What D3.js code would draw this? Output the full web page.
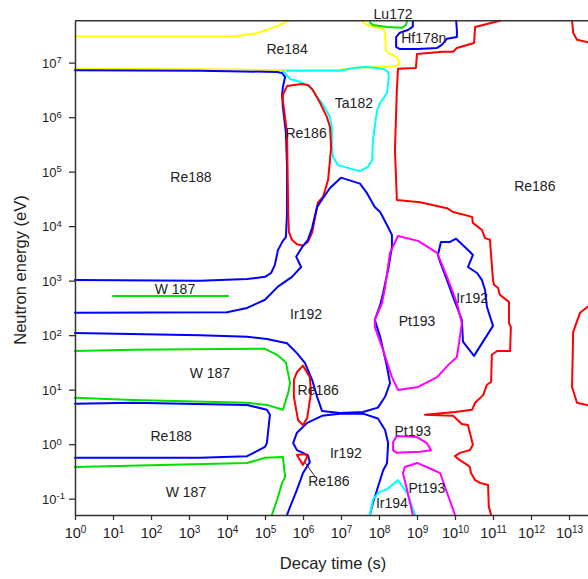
<!DOCTYPE html>
<html><head><meta charset="utf-8">
<script src="https://cdn.jsdelivr.net/npm/d3@7"></script>
<style>
body{margin:0;background:#fff}
svg{display:block}
text{font-family:"Liberation Sans",Arial,sans-serif;fill:#222}
</style>
</head><body>
<svg id="chart" width="588" height="579"></svg>
<script>
// Each point: [log10 decay time (s), log10 neutron energy (eV)]
const xTickExps = d3.range(0, 14);
const yTickExps = d3.range(-1, 8);

const re184Top = [[0,7.48],[4.16,7.48],[4.79,7.54],[5.32,7.67],[5.63,7.77]];
const re184Bottom = [[7.55,7.77],[7.68,7.69],[8.11,7.62],[8.16,7.55],[8.18,7.23],[8.29,7.16],[8.47,7.10],[8.53,7.01],[8.53,6.96],[8.37,6.93],[7.84,6.92],[7.32,6.90],[6.97,6.87],[5.92,6.86],[3.29,6.88],[0,6.89]];
const lu172 = [[7.76,7.74],[7.84,7.69],[8.21,7.655],[8.61,7.64],[8.71,7.69],[8.74,7.77]];
const hf178n = [[8.89,7.77],[8.89,7.66],[8.76,7.60],[8.55,7.55],[8.45,7.47],[8.45,7.29],[8.55,7.25],[9.03,7.25],[9.53,7.27],[9.66,7.33],[9.79,7.44],[10.05,7.47],[10.05,7.60],[10.03,7.77]];
const re186Right = [[11.18,7.77],[10.53,7.655],[10.50,7.36],[10.34,7.33],[10.05,7.27],[9.95,7.20],[9.68,7.20],[9.0,7.16],[8.97,6.90],[8.50,6.89],[8.47,6.50],[8.42,5.40],[8.47,4.48],[9.08,4.44],[9.79,4.33],[9.95,4.26],[10.45,4.17],[10.47,4.06],[10.71,3.93],[10.79,3.78],[10.92,3.75],[11.0,3.01],[11.03,2.92],[11.13,2.87],[11.18,2.74],[11.42,2.61],[11.42,2.22],[11.47,2.15],[11.45,1.71],[11.11,1.71],[10.97,1.64],[10.95,1.14],[10.84,1.09],[10.74,0.90],[10.53,0.76],[10.45,0.63],[10.0,0.59],[9.21,0.54],[9.95,0.52],[10.18,0.37],[10.34,0.35],[10.42,0.13],[10.47,-0.01],[10.39,-0.11],[10.13,-0.16],[10.0,-0.22],[10.08,-0.27],[10.32,-0.38],[10.39,-0.42],[10.42,-0.53],[10.53,-0.66],[10.66,-0.71],[10.87,-0.75],[10.89,-1.15],[10.95,-1.30]];
const re186EdgeTop = [[13.08,7.77],[13.11,7.55],[13.21,7.42],[13.6,7.36]];
const re186EdgeMid = [[13.6,2.58],[13.29,2.41],[13.11,2.06],[13.08,1.05],[13.21,0.76],[13.6,0.70]];
const re188Upper = [[0,6.86],[3.29,6.85],[5.32,6.83],[5.45,6.81],[5.53,6.74],[5.47,6.55],[5.45,6.41],[5.47,6.19],[5.55,5.71],[5.58,5.09],[5.58,4.24],[5.55,3.80],[5.47,3.73],[5.34,3.56],[5.26,3.29],[5.16,3.14],[5.0,3.07],[4.53,3.03],[3.29,3.0],[0,3.01]];
const re186Inner = [[5.97,6.61],[5.58,6.57],[5.47,6.41],[5.47,6.31],[5.58,5.71],[5.61,4.24],[5.63,3.89],[5.71,3.75],[5.84,3.67],[6.0,3.64],[6.13,3.71],[6.24,3.88],[6.39,4.43],[6.53,4.54],[6.66,4.85],[6.71,5.21],[6.74,5.45],[6.71,5.82],[6.63,6.0],[6.45,6.26],[6.26,6.50],[6.13,6.59]];
const ta182 = [[5.47,6.85],[5.66,6.70],[5.92,6.65],[6.18,6.56],[6.37,6.37],[6.53,6.23],[6.71,6.0],[6.76,5.82],[6.76,5.45],[6.79,5.27],[6.92,5.12],[7.18,5.07],[7.5,5.01],[7.71,5.09],[7.82,5.21],[7.84,5.58],[7.95,6.13],[8.03,6.26],[8.21,6.44],[8.26,6.74],[8.24,6.83],[8.16,6.87],[7.97,6.90],[7.58,6.92],[7.32,6.90],[6.97,6.85],[5.92,6.85],[5.58,6.85]];
const ir192Main = [[0,2.41],[4.0,2.42],[4.53,2.50],[5.0,2.65],[5.34,2.89],[5.71,3.07],[5.95,3.25],[5.82,3.44],[6.0,3.64],[6.13,3.75],[6.24,3.97],[6.37,4.35],[6.53,4.52],[6.71,4.70],[7.0,4.89],[7.5,4.78],[7.68,4.61],[7.89,4.35],[8.03,4.26],[8.21,4.02],[8.34,3.84],[8.34,3.62],[8.24,3.20],[8.11,2.78],[8.03,2.55],[7.89,2.28],[8.03,1.97],[8.11,1.73],[8.21,1.42],[8.29,1.12],[8.16,0.87],[7.97,0.67],[7.58,0.59],[6.97,0.57],[6.50,0.61],[6.37,0.87],[6.24,1.18],[6.05,1.49],[5.84,1.67],[5.58,1.85],[5.05,1.93],[4.53,1.97],[3.29,2.0],[0,2.04]];
const ir192Lower = [[5.58,-1.30],[5.66,-1.15],[5.84,-0.84],[6.0,-0.53],[6.18,-0.33],[6.13,-0.20],[5.84,-0.11],[5.74,0.02],[5.84,0.21],[6.11,0.39],[6.50,0.52],[6.97,0.56],[7.58,0.56],[7.97,0.47],[8.16,0.26],[8.24,0.02],[8.21,-0.35],[8.11,-0.48],[7.97,-0.79],[7.84,-1.08],[7.76,-1.30]];
const ir192Right = [[9.63,3.71],[9.87,3.71],[10.03,3.77],[10.39,3.53],[10.47,3.47],[10.34,3.25],[10.58,3.14],[10.71,3.01],[10.79,2.83],[10.84,2.52],[11.0,2.17],[10.5,1.62],[10.21,1.88],[10.18,2.28],[9.95,2.70],[9.79,3.01],[9.61,3.34],[9.55,3.47]];
const w187Thin = [[1.0,2.72],[4.03,2.72]];
const w187Mid = [[0,1.71],[1.53,1.73],[5.0,1.75],[5.32,1.64],[5.55,1.50],[5.66,1.12],[5.61,0.94],[5.47,0.63],[5.34,0.66],[5.05,0.72],[4.53,0.76],[1.53,0.81],[0,0.85]];
const re188Lower = [[0,0.74],[1.53,0.76],[4.53,0.72],[5.05,0.63],[5.13,0.54],[5.05,0.02],[5.0,-0.05],[4.53,-0.22],[3.29,-0.25],[0,-0.25]];
const w187Low = [[0,-0.42],[4.53,-0.345],[5.0,-0.25],[5.47,-0.235],[5.53,-0.60],[5.45,-0.71],[5.32,-1.02],[5.18,-1.30]];
const re186Mid = [[6.0,1.44],[6.18,1.23],[6.21,0.94],[6.11,0.48],[6.0,0.35],[5.87,0.44],[5.76,0.87],[5.76,1.18],[5.84,1.32]];
const re186Tiny = [[5.84,-0.20],[6.05,-0.18],[6.11,-0.23],[6.0,-0.38],[5.92,-0.29]];
const ir194 = [[7.76,-1.30],[7.84,-1.02],[8.0,-0.88],[8.21,-0.83],[8.5,-0.66],[8.74,-0.90],[8.95,-1.30]];
const pt193Low = [[8.89,-1.30],[8.76,-0.90],[8.63,-0.53],[8.68,-0.42],[9.0,-0.345],[9.42,-0.47],[9.61,-0.53],[9.74,-0.79],[10.0,-1.30]];
const pt193Small = [[8.47,0.15],[9.0,0.13],[9.26,0.02],[9.37,-0.11],[9.08,-0.14],[8.47,-0.16],[8.37,-0.11],[8.37,0.04]];
const pt193Big = [[8.5,3.82],[9.03,3.73],[9.53,3.51],[9.79,3.07],[10.05,2.59],[10.18,2.22],[10.13,1.97],[10.05,1.60],[9.82,1.45],[9.53,1.23],[9.03,1.05],[8.5,0.995],[8.34,1.23],[8.08,1.78],[7.89,2.15],[7.89,2.28],[8.08,2.59],[8.16,2.88],[8.29,3.51]];
const re186Pointer = [[6.05,-0.33],[6.32,-0.60]];

const labelTexts = ["Lu172","Hf178n","Re184","Ta182","Re186","Re188","Re186","W 187","Ir192","Pt193","Ir192","W 187","Re186","Re188","Ir192","Pt193","Re186","Pt193","W 187","Ir194"];
const labelAt = [[8.37,7.89],[9.18,7.45],[5.58,7.25],[7.34,6.26],[6.08,5.71],[3.05,4.90],[12.1,4.74],[2.63,2.85],[6.08,2.39],[9.0,2.26],[10.45,2.68],[3.55,1.31],[6.4,0.99],[2.53,0.15],[7.13,-0.16],[8.89,0.24],[6.68,-0.67],[9.26,-0.80],[2.92,-0.88],[8.34,-1.08]];

const W = 588, H = 579;
const svg = d3.select("#chart");
const x = d3.scaleLog().domain([1, 1e14]).range([75, 607]);
const y = d3.scaleLog().domain([Math.pow(10,-1.3), Math.pow(10,7.77)]).range([515, 20.7]);

const line = d3.line().x(d => x(Math.pow(10, d[0]))).y(d => y(Math.pow(10, d[1])));
const lineClosed = d3.line().curve(d3.curveLinearClosed).x(d => x(Math.pow(10, d[0]))).y(d => y(Math.pow(10, d[1])));

const curves = [
  {d: re184Top, c: "#ffff00"}, {d: re184Bottom, c: "#ffff00"},
  {d: re188Upper, c: "#0000ff"},
  {d: ta182, c: "#00ffff"},
  {d: lu172, c: "#00e000"}, {d: hf178n, c: "#0000ff"},
  {d: re186Right, c: "#ff0000"}, {d: re186EdgeTop, c: "#ff0000"}, {d: re186EdgeMid, c: "#ff0000"},
  {d: re186Inner, c: "#ff0000", closed: true},
  {d: ir192Main, c: "#0000ff"}, {d: ir192Lower, c: "#0000ff"},
  {d: ir192Right, c: "#0000ff", closed: true},
  {d: w187Thin, c: "#00e000"}, {d: w187Mid, c: "#00e000"}, {d: w187Low, c: "#00e000"},
  {d: re188Lower, c: "#0000ff"},
  {d: re186Mid, c: "#ff0000", closed: true}, {d: re186Tiny, c: "#ff0000", closed: true},
  {d: ir194, c: "#00ffff"},
  {d: pt193Low, c: "#ff00ff"}, {d: pt193Small, c: "#ff00ff", closed: true}, {d: pt193Big, c: "#ff00ff", closed: true}
];

svg.append("g").selectAll("path").data(curves).join("path")
  .attr("d", c => (c.closed ? lineClosed : line)(c.d))
  .attr("fill", "none").attr("stroke", c => c.c).attr("stroke-width", 2)
  .attr("stroke-linejoin", "round").attr("stroke-linecap", "round");

svg.append("path").attr("d", line(re186Pointer)).attr("stroke", "#222").attr("stroke-width", 1).attr("fill", "none");

svg.append("g").selectAll("text").data(labelTexts).join("text")
  .attr("x", (t, i) => x(Math.pow(10, labelAt[i][0])))
  .attr("y", (t, i) => y(Math.pow(10, labelAt[i][1])))
  .attr("text-anchor", "middle").attr("dy", "0.35em")
  .attr("font-size", 14).text(t => t);

// top border
svg.append("line").attr("x1", 75).attr("x2", W).attr("y1", 20.7).attr("y2", 20.7)
  .attr("stroke", "#333").attr("stroke-width", 1.5);

const xAxis = svg.append("g").attr("transform", "translate(0,515)")
  .call(d3.axisBottom(x).tickValues(xTickExps.map(e => Math.pow(10, e))).tickSize(5).tickSizeOuter(0).tickFormat(""));
const yAxis = svg.append("g").attr("transform", "translate(75,0)")
  .call(d3.axisLeft(y).tickValues(yTickExps.map(e => Math.pow(10, e))).tickSize(6).tickSizeOuter(0).tickFormat(""));

[xAxis, yAxis].forEach(g => {
  g.select(".domain").attr("stroke", "#333").attr("stroke-width", 1.5);
  g.selectAll(".tick line").attr("stroke", "#333").attr("stroke-width", 1.3);
});

xAxis.selectAll(".tick").append("text")
  .attr("y", 23).attr("text-anchor", "middle").attr("font-size", 14.5)
  .each(function(d) {
    const e = Math.round(Math.log10(d));
    const t = d3.select(this);
    t.append("tspan").text("10");
    t.append("tspan").attr("dy", -5).attr("font-size", 10).text(e);
  });

yAxis.selectAll(".tick").append("text")
  .attr("x", -33).attr("dy", "0.36em").attr("text-anchor", "start").attr("font-size", 13)
  .each(function(d) {
    const e = Math.round(Math.log10(d));
    const t = d3.select(this);
    t.append("tspan").text("10");
    t.append("tspan").attr("dy", -4.5).attr("font-size", 9.5).text(e);
  });

svg.append("text").attr("x", 333).attr("y", 563).attr("dy", "0.35em")
  .attr("text-anchor", "middle").attr("font-size", 16.5).text("Decay time (s)");
svg.append("text").attr("transform", "translate(20,270) rotate(-90)").attr("dy", "0.35em")
  .attr("text-anchor", "middle").attr("font-size", 16.5).text("Neutron energy (eV)");
</script>
</body></html>
